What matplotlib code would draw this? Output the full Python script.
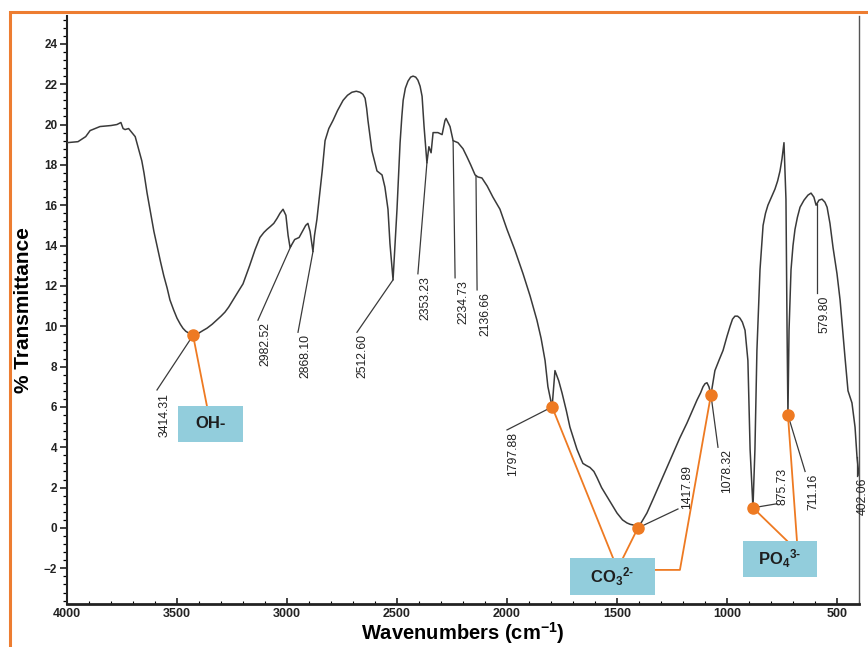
import numpy as np
import matplotlib
matplotlib.use("Agg")
import matplotlib.pyplot as plt
from matplotlib.patches import Rectangle
from matplotlib.ticker import MultipleLocator

plt.rcParams['font.family'] = ['Liberation Sans', 'DejaVu Sans']
plt.rcParams['mathtext.fontset'] = 'custom'
plt.rcParams['mathtext.rm'] = 'Liberation Sans:bold'
plt.rcParams['mathtext.it'] = 'Liberation Sans:bold'
plt.rcParams['mathtext.bf'] = 'Liberation Sans:bold'

# ---------------- data ----------------
wavenumber = [4000, 3950, 3915, 3895, 3850, 3800, 3773, 3755, 3745, 3736, 3720, 3705,
              3690, 3680, 3673, 3660, 3650, 3636, 3623, 3605, 3591, 3575, 3560, 3545,
              3532, 3515, 3500, 3485, 3473, 3460, 3445,
              3427, 3410, 3395, 3380, 3364, 3340, 3320, 3300, 3282, 3265, 3240, 3220, 3200,
              3185, 3170, 3145, 3123, 3105, 3091,
              3075, 3060, 3045, 3032, 3018, 3005, 2995, 2986, 2965, 2945, 2930, 2915, 2905, 2895, 2882,
              2875, 2864, 2852, 2840, 2827, 2810, 2791, 2770, 2745, 2725, 2705, 2685, 2668, 2655, 2645,
              2638, 2632, 2614, 2591,
              2568, 2555, 2541, 2532, 2518, 2500, 2486, 2478, 2472, 2462, 2450, 2438, 2427, 2415,
              2405, 2395, 2386,
              2377, 2364, 2355, 2345, 2336, 2314, 2295, 2282, 2277, 2259, 2245, 2223, 2200,
              2182, 2165, 2145, 2132, 2114, 2090, 2064, 2032, 2000, 1965, 1927, 1895, 1864, 1845,
              1827, 1814, 1795,
              1782, 1765, 1750, 1730, 1714, 1695, 1682, 1665, 1655, 1640, 1623, 1605, 1591, 1570,
              1545, 1520, 1500, 1475, 1455, 1440, 1427, 1405,
              1385, 1364, 1335, 1305, 1275, 1245, 1215, 1182, 1160, 1136, 1120, 1109, 1100, 1091,
              1082, 1073, 1055, 1035, 1018, 1000, 986,
              975, 964, 952, 941, 930, 918, 905, 895, 882, 873, 864, 850, 836, 825, 814, 798, 782,
              770, 759, 750, 741,
              732, 727, 723, 718, 709, 700, 691, 680, 668, 650, 632, 618, 605, 595, 582, 568, 555,
              545, 532, 518, 500, 486,
              464, 450, 432, 418, 409, 400]
transmittance = [19.1, 19.15, 19.4, 19.7, 19.9, 19.95, 20.0, 20.1, 19.8, 19.75, 19.8, 19.6,
                 19.4, 19.0, 18.7, 18.2, 17.6, 16.6, 15.8, 14.7, 14.0, 13.2, 12.5, 11.9,
                 11.3, 10.8, 10.4, 10.1, 9.9, 9.75, 9.65,
                 9.55, 9.58, 9.7, 9.8, 9.9, 10.1, 10.3, 10.5, 10.7, 10.95, 11.4, 11.75, 12.1,
                 12.55, 13.0, 13.8, 14.4, 14.65, 14.8,
                 14.95, 15.1, 15.35, 15.6, 15.8, 15.5, 14.5, 13.9, 14.3, 14.4, 14.7, 15.0, 15.1, 14.7, 13.7,
                 14.5, 15.3, 16.5, 17.7, 19.2, 19.8, 20.2, 20.7, 21.2, 21.45, 21.6, 21.65, 21.6, 21.5, 21.3,
                 20.8, 20.2, 18.7, 17.7,
                 17.5, 16.9, 15.8, 14.1, 12.3, 15.8, 19.1, 20.4, 21.2, 21.8, 22.15, 22.35, 22.4, 22.35,
                 22.2, 21.9, 21.4,
                 19.9, 18.1, 18.9, 18.6, 19.6, 19.6, 19.5, 20.2, 20.3, 19.9, 19.2, 19.1, 18.8,
                 18.4, 18.0, 17.5, 17.4, 17.35, 16.95, 16.4, 15.8, 14.8, 13.8, 12.6, 11.5, 10.3, 9.4,
                 8.3, 7.0, 6.0,
                 7.8, 7.3, 6.7, 5.8, 5.0, 4.35, 3.9, 3.45, 3.2, 3.1, 3.0, 2.8, 2.5, 2.0,
                 1.55, 1.1, 0.74, 0.4, 0.25, 0.18, 0.15, 0.0,
                 0.35, 0.74, 1.45, 2.2, 2.95, 3.7, 4.45, 5.2, 5.75, 6.35, 6.7, 7.0, 7.15, 7.2,
                 7.0, 6.6, 7.8, 8.35, 8.8, 9.5, 10.0,
                 10.35, 10.5, 10.5, 10.4, 10.2, 9.8, 8.3, 3.9, 1.0, 3.9, 8.8, 12.8, 15.0, 15.6, 16.0, 16.4, 16.8,
                 17.2, 17.7, 18.3, 19.1,
                 16.3, 9.8, 5.6, 9.8, 12.8, 14.0, 14.8, 15.4, 15.9, 16.25, 16.5, 16.6, 16.4, 16.0, 16.25, 16.3, 16.15,
                 15.9, 15.1, 13.9, 12.6, 11.3,
                 8.5, 6.8, 6.2, 5.0, 3.5, 2.6]

# peak labels: text, wavenumber where the leader starts on the curve
peak_labels = ["3414.31", "2982.52", "2868.10", "2512.60", "2353.23", "2234.73",
               "2136.66", "1797.88", "1417.89", "1078.32", "875.73", "711.16",
               "579.80", "402.06"]
peak_positions = [3427, 2982, 2882, 2518, 2364, 2245, 2141, 1795, 1405, 1073, 882, 723, 591, 409]

# orange-marked bands
oh_marks = [3427]
co3_marks = [1795, 1405, 1073]
po4_marks = [882, 723]
group_labels = ["OH-", "CO$_3$$^{2\u2010}$", "PO$_4$$^{3\u2010}$"]

y_ticks = list(range(-2, 25, 2))
x_ticks = [4000, 3500, 3000, 2500, 2000, 1500, 1000, 500]

# ---------------- figure ----------------
W, H = 868, 647
fig = plt.figure(figsize=(W / 100, H / 100), dpi=100)
ax = fig.add_axes([67 / W, 1 - 604 / H, 792 / W, 588 / H])

w = np.array(wavenumber, dtype=float)
t = np.array(transmittance, dtype=float)
ax.plot(w, t, color='#3a3a3a', lw=1.1, zorder=3, solid_joinstyle='round')

ax.set_xlim(4000, 400)
ax.set_ylim(-3.77, 25.38)

curve_at = lambda x: float(np.interp(x, w[::-1], t[::-1]))

# label layout: (leader end x, leader end y, text x, text y, va)
label_layout = [
    (3591, 6.84, 3555, 6.7, 'top'),
    (3132, 10.3, 3100, 10.2, 'top'),
    (2950, 9.7, 2918, 9.6, 'top'),
    (2682, 9.7, 2655, 9.6, 'top'),
    (2405, 12.6, 2373, 12.5, 'top'),
    (2236, 12.4, 2200, 12.3, 'top'),
    (2136, 11.8, 2100, 11.7, 'top'),
    (2000, 4.86, 1973, 4.75, 'top'),
    (1223, 0.94, 1182, 0.94, 'bottom'),
    (1041, 4.0, 1000, 3.9, 'top'),
    (773, 1.2, 750, 1.15, 'bottom'),
    (645, 2.8, 609, 2.7, 'top'),
    (591, 11.65, 559, 11.5, 'top'),
    (409, 2.6, 384, 2.5, 'top'),
]
for lab, px, (ex, ey, tx, ty, va) in zip(peak_labels, peak_positions, label_layout):
    py = curve_at(px)
    ax.plot([px, ex], [py, ey], color='#3a3a3a', lw=0.9, zorder=2, clip_on=False)
    ax.text(tx, ty, lab, rotation=90, ha='center', va=va, fontsize=8.8,
            color='#222222', clip_on=False, zorder=4)

orange = '#EE7A22'
box_color = '#92CDDC'

# group boxes: (x0, x1, y0, y1) in data units; line endpoints at box edges
groups = [
    (oh_marks, (3495, 3200, 4.26, 6.05), [(3364, 6.05)], None),
    (co3_marks, (1714, 1327, -3.32, -1.49), [(1518, -1.49), (1473, -1.49), (1214, -2.08)], (1327, -2.08)),
    (po4_marks, (927, 591, -2.43, -0.64), [(727, -0.64), (682, -0.64)], None),
]
for (marks, (x0, x1, y0, y1), ends, extra), glab in zip(groups, group_labels):
    for i, (m, (ex, ey)) in enumerate(zip(marks, ends)):
        my = curve_at(m)
        xs, ys = [m, ex], [my, ey]
        if extra is not None and i == len(marks) - 1:
            xs.append(extra[0]); ys.append(extra[1])
        ax.plot(xs, ys, color=orange, lw=1.3, zorder=5, clip_on=False)
        ax.plot([m], [my], 'o', color=orange, ms=8, zorder=6, clip_on=False)
    ax.add_patch(Rectangle((x1, y0), x0 - x1, y1 - y0, facecolor=box_color,
                           edgecolor='none', zorder=7, clip_on=False))
    ax.text((x0 + x1) / 2, (y0 + y1) / 2, glab, ha='center', va='center',
            fontsize=12, fontweight='bold', color='#1e1e1e', zorder=8)

# axes styling
ax.spines['top'].set_visible(False)
ax.spines['right'].set_color('#555555')
ax.spines['right'].set_linewidth(1.0)
ax.spines['left'].set_linewidth(1.5)
ax.spines['bottom'].set_linewidth(2.0)
ax.spines['left'].set_color('#222222')
ax.spines['bottom'].set_color('#222222')

ax.set_yticks(y_ticks)
ax.yaxis.set_minor_locator(MultipleLocator(0.4))
ax.set_xticks(x_ticks)
ax.xaxis.set_minor_locator(MultipleLocator(100))
ax.tick_params(axis='y', which='major', direction='out', length=5, width=1.2, pad=2,
               labelsize=8.5, colors='#222222', right=False)
ax.tick_params(axis='y', which='minor', direction='out', length=3, width=0.9, right=False)
ax.tick_params(axis='x', which='major', direction='in', length=4, width=1.2, pad=3,
               labelsize=9, colors='#222222', top=False)
ax.tick_params(axis='x', which='minor', direction='in', length=2, width=0.8, top=False)
for lbl in ax.get_xticklabels() + ax.get_yticklabels():
    lbl.set_fontweight('bold')

ax.set_xlabel('Wavenumbers (cm$^{-1}$)', fontsize=14.5, fontweight='bold', labelpad=0)
ax.set_ylabel('% Transmittance', fontsize=15, fontweight='bold', labelpad=8)

# orange frame around the figure
fig.patches.append(Rectangle((10 / W, -0.1), 1.2, 1 - 12 / H + 0.1, transform=fig.transFigure,
                             fill=False, edgecolor='#ED7D31', lw=2.2, zorder=10))

fig.savefig('out.png', dpi=100)
